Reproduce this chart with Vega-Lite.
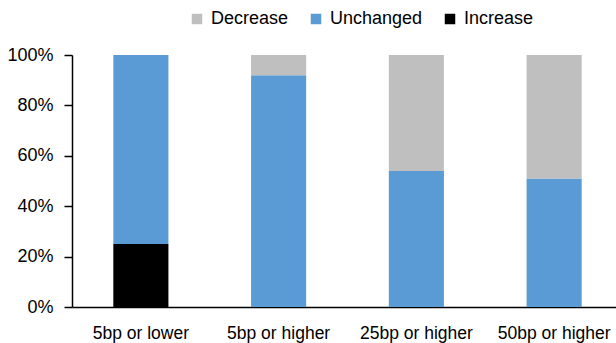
{
  "$schema": "https://vega.github.io/schema/vega-lite/v6.json",
  "width": 551,
  "height": 252,
  "autosize": "none",
  "padding": {"left": 72, "top": 55, "right": 0, "bottom": 36},
  "background": "white",
  "config": {
    "font": "Liberation Sans",
    "view": {"stroke": null},
    "axis": {"labelFont": "Liberation Sans", "labelColor": "#000000"},
    "legend": {"labelFont": "Liberation Sans", "labelColor": "#000000"}
  },
  "data": {
    "values": [
      {"bucket": "5bp or lower", "response": "Increase", "share": 0.25},
      {"bucket": "5bp or lower", "response": "Unchanged", "share": 0.75},
      {"bucket": "5bp or lower", "response": "Decrease", "share": 0.0},
      {"bucket": "5bp or higher", "response": "Increase", "share": 0.0},
      {"bucket": "5bp or higher", "response": "Unchanged", "share": 0.92},
      {"bucket": "5bp or higher", "response": "Decrease", "share": 0.08},
      {"bucket": "25bp or higher", "response": "Increase", "share": 0.0},
      {"bucket": "25bp or higher", "response": "Unchanged", "share": 0.54},
      {"bucket": "25bp or higher", "response": "Decrease", "share": 0.46},
      {"bucket": "50bp or higher", "response": "Increase", "share": 0.0},
      {"bucket": "50bp or higher", "response": "Unchanged", "share": 0.51},
      {"bucket": "50bp or higher", "response": "Decrease", "share": 0.49}
    ]
  },
  "transform": [
    {"calculate": "datum.response === 'Increase' ? 0 : datum.response === 'Unchanged' ? 1 : 2", "as": "stackOrder"}
  ],
  "mark": {"type": "bar"},
  "encoding": {
    "x": {
      "field": "bucket",
      "type": "nominal",
      "sort": ["5bp or lower", "5bp or higher", "25bp or higher", "50bp or higher"],
      "scale": {"paddingInner": 0.6, "paddingOuter": 0.3},
      "axis": {
        "title": null,
        "labelAngle": 0,
        "labelFontSize": 17.5,
        "labelPadding": 17,
        "ticks": false,
        "domainColor": "#000000",
        "domainWidth": 1.5
      }
    },
    "y": {
      "field": "share",
      "type": "quantitative",
      "stack": "zero",
      "scale": {"domain": [0, 1], "nice": false},
      "axis": {
        "title": null,
        "format": ".0%",
        "values": [0, 0.2, 0.4, 0.6, 0.8, 1],
        "grid": false,
        "labelFontSize": 18,
        "labelPadding": 11,
        "tickSize": 8,
        "tickColor": "#000000",
        "tickWidth": 1.5,
        "domainColor": "#000000",
        "domainWidth": 1.5
      }
    },
    "color": {
      "field": "response",
      "type": "nominal",
      "scale": {
        "domain": ["Decrease", "Unchanged", "Increase"],
        "range": ["#BFBFBF", "#5B9BD5", "#000000"]
      },
      "legend": {
        "title": null,
        "orient": "none",
        "direction": "horizontal",
        "legendX": 116,
        "legendY": -45,
        "symbolType": "square",
        "symbolSize": 110,
        "symbolStrokeWidth": 0,
        "labelFontSize": 18,
        "labelOffset": 5,
        "columnPadding": 18
      }
    },
    "order": {"field": "stackOrder", "type": "quantitative"}
  }
}
